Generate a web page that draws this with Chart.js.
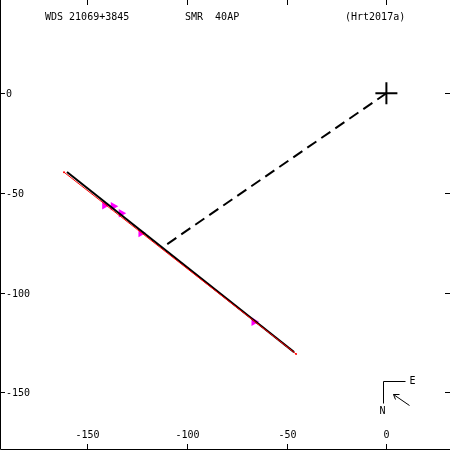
<!DOCTYPE html>
<html>
<head>
<meta charset="utf-8">
<script src="https://cdn.jsdelivr.net/npm/chart.js@4.4.1/dist/chart.umd.min.js"></script>
<style>
  html, body { margin: 0; padding: 0; background: #fff; }
  canvas { display: block; }
</style>
</head>
<body>
<canvas id="orbita" width="450" height="450"></canvas>
<script>
// datos
const tituloIzq = "WDS 21069+3845";
const tituloCentro = "SMR  40AP";
const tituloDer = "(Hrt2017a)";

const ticksX = [-150, -100, -50, 0];
const ticksY = [0, -50, -100, -150];

const obsX = [-141.3, -137.0, -133.0, -123.1, -66.4];
const obsY = [-56.2, -56.7, -60.2, -70.1, -114.6];

const lineaX = [-160.2, -46.3];
const lineaY = [-39.5, -129.9];

const ajusteX = [-161.7, -45.3];
const ajusteY = [-39.6, -130.8];

const primariaX = [0];
const primariaY = [0];

const conexionX = [0, -112.0];
const conexionY = [0, -77.1];

const rangoX = [-193.8, 31.9];
const rangoY = [-179.0, 46.8];

function puntos(xs, ys) {
  return xs.map((x, i) => ({ x: x, y: ys[i] }));
}

const FUENTE = "10px 'DejaVu Sans Mono', monospace";

const marcoPlugin = {
  id: "marco",
  afterDraw(chart) {
    const ctx = chart.ctx;
    const a = chart.chartArea;
    const sx = chart.scales.x;
    const sy = chart.scales.y;
    ctx.save();
    ctx.strokeStyle = "#000";
    ctx.fillStyle = "#000";
    ctx.lineWidth = 1;

    // bordes izquierdo e inferior
    ctx.beginPath();
    ctx.moveTo(a.left + 0.5, a.top);
    ctx.lineTo(a.left + 0.5, a.bottom - 0.5);
    ctx.lineTo(a.right, a.bottom - 0.5);
    ctx.stroke();

    ctx.font = FUENTE;

    // marcas eje x
    ctx.textAlign = "center";
    ctx.textBaseline = "middle";
    ticksX.forEach(v => {
      const px = Math.round(sx.getPixelForValue(v)) + 0.5;
      ctx.beginPath();
      ctx.moveTo(px, a.top);
      ctx.lineTo(px, a.top + 5);
      ctx.moveTo(px, a.bottom - 6);
      ctx.lineTo(px, a.bottom);
      ctx.stroke();
      ctx.fillText(String(v), px, a.bottom - 15);
    });

    // marcas eje y
    ctx.textAlign = "left";
    ticksY.forEach(v => {
      const py = Math.round(sy.getPixelForValue(v)) + 0.5;
      ctx.beginPath();
      ctx.moveTo(a.left, py);
      ctx.lineTo(a.left + 5, py);
      ctx.moveTo(a.right - 5, py);
      ctx.lineTo(a.right, py);
      ctx.stroke();
      ctx.fillText(String(v), a.left + 6, py + 1);
    });

    // titulos
    ctx.textAlign = "left";
    ctx.fillText(tituloIzq, 45, 17);
    ctx.fillText(tituloCentro, 185, 17);
    ctx.fillText(tituloDer, 345, 17);

    // brujula
    const cx = a.right - 66.5;
    const cy = a.bottom - 68.5;
    ctx.beginPath();
    ctx.moveTo(cx + 22, cy);
    ctx.lineTo(cx, cy);
    ctx.lineTo(cx, cy + 22);
    ctx.stroke();
    ctx.fillText("E", cx + 26, cy);
    ctx.textAlign = "center";
    ctx.fillText("N", cx - 1, cy + 30);
    ctx.beginPath();
    ctx.moveTo(cx + 26, cy + 24);
    ctx.lineTo(cx + 10, cy + 13);
    ctx.moveTo(cx + 10, cy + 13);
    ctx.lineTo(cx + 16, cy + 13);
    ctx.moveTo(cx + 10, cy + 13);
    ctx.lineTo(cx + 12, cy + 18);
    ctx.stroke();
    ctx.restore();
  }
};

new Chart(document.getElementById("orbita").getContext("2d"), {
  type: "scatter",
  data: {
    datasets: [
      {
        data: puntos(conexionX, conexionY),
        showLine: true,
        borderColor: "#000",
        borderWidth: 2,
        borderDash: [11, 6],
        pointRadius: 0
      },
      {
        data: puntos(ajusteX, ajusteY),
        showLine: true,
        borderColor: "#ff0000",
        borderWidth: 1,
        pointRadius: 1,
        pointBackgroundColor: "#ff0000",
        pointBorderWidth: 0
      },
      {
        data: puntos(lineaX, lineaY),
        showLine: true,
        borderColor: "#000",
        borderWidth: 2,
        pointRadius: 0
      },
      {
        data: puntos(obsX, obsY),
        showLine: false,
        pointStyle: "triangle",
        pointRadius: 5,
        pointBackgroundColor: "#ff00ff",
        pointBorderColor: "#ff00ff",
        pointBorderWidth: 0,
        rotation: -30
      },
      {
        data: puntos(primariaX, primariaY),
        showLine: false,
        pointStyle: "cross",
        pointRadius: 11,
        pointBorderColor: "#000",
        pointBorderWidth: 2
      }
    ]
  },
  options: {
    responsive: false,
    animation: false,
    layout: { padding: 0, autoPadding: false },
    plugins: {
      legend: { display: false },
      tooltip: { enabled: false }
    },
    scales: {
      x: { type: "linear", min: rangoX[0], max: rangoX[1], display: false },
      y: { type: "linear", min: rangoY[0], max: rangoY[1], display: false }
    }
  },
  plugins: [marcoPlugin]
});
</script>
</body>
</html>
